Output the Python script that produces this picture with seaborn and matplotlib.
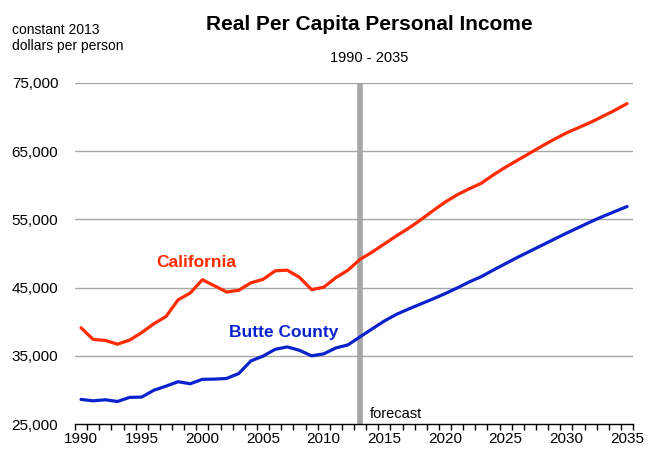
import pandas as pd
import matplotlib.pyplot as plt
import seaborn as sns
import numpy as np
from matplotlib.ticker import FuncFormatter, FixedLocator

# DATA
years = list(range(1990, 2036))
california = [39100, 37400, 37250, 36700, 37300, 38400, 39700, 40750, 43200, 44200,
              46150, 45250, 44350, 44600, 45700, 46200, 47450, 47550, 46500, 44700,
              45050, 46450, 47550, 49150, 50200, 51400, 52580, 53700, 54930, 56250,
              57520, 58600, 59480, 60300, 61540, 62660, 63690, 64720, 65750, 66730,
              67660, 68440, 69220, 70100, 70990, 71970]
butte = [28600, 28400, 28550, 28300, 28900, 28950, 29950, 30550, 31200, 30900,
         31550, 31580, 31680, 32400, 34250, 34950, 35950, 36300, 35800, 35000,
         35280, 36150, 36600, 37780, 38950, 40100, 41080, 41860, 42600, 43330,
         44110, 44940, 45830, 46610, 47590, 48520, 49450, 50330, 51210, 52090,
         52970, 53800, 54640, 55420, 56150, 56880]
y_ticks = [25000, 35000, 45000, 55000, 65000, 75000]
x_labels = [1990, 1995, 2000, 2005, 2010, 2015, 2020, 2025, 2030, 2035]
forecast_start = 2013

df = pd.DataFrame({
    "year": years * 2,
    "income": california + butte,
    "region": ["California"] * len(years) + ["Butte County"] * len(years),
})

# CONFIG
sns.set_style("white")
plt.rcParams["font.family"] = ["Liberation Sans", "DejaVu Sans"]
plt.rcParams["text.color"] = "black"
plt.rcParams["xtick.color"] = "black"
plt.rcParams["ytick.color"] = "black"

fig = plt.figure(figsize=(6.52, 4.53), dpi=100)
ax = fig.add_axes([0.115, 0.064, 0.856, 0.753])

# gridlines + forecast bar behind lines
for v in y_ticks[1:]:
    ax.axhline(v, color="#a6a6a6", lw=1, zorder=0)
ax.axvline(forecast_start, color="#a6a6a6", lw=4, zorder=1)

sns.lineplot(data=df, x="year", y="income", hue="region",
             palette={"California": "#ff2a00", "Butte County": "#0a22cc"},
             linewidth=2.3, legend=False, ax=ax, zorder=3)

ax.set_xlim(1989.5, 2035.5)
ax.set_ylim(25000, 75000)
ax.set_yticks(y_ticks)
ax.yaxis.set_major_formatter(FuncFormatter(lambda v, p: f"{int(v):,}"))
ax.set_xticks(x_labels)
ax.xaxis.set_minor_locator(FixedLocator(np.arange(1989.5, 2036, 1)))
ax.tick_params(axis="x", which="major", bottom=True, length=0, pad=6, labelsize=11)
ax.tick_params(axis="x", which="minor", bottom=True, length=4, width=1,
               direction="out", color="black")
ax.tick_params(axis="y", length=0, pad=12, labelsize=11)
ax.set_xlabel("")
ax.set_ylabel("")
for s in ["left", "right", "top"]:
    ax.spines[s].set_visible(False)
ax.spines["bottom"].set_color("black")
ax.spines["bottom"].set_linewidth(1)

# texts
fig.text(0.566, 0.947, "Real Per Capita Personal Income", ha="center", va="center",
         fontsize=15, fontweight="bold")
fig.text(0.566, 0.872, "1990 - 2035", ha="center", va="center", fontsize=10.5)
fig.text(0.019, 0.916, "constant 2013\ndollars per person", ha="left", va="center",
         fontsize=10, linespacing=1.2)
ax.text(2013.8, 26500, "forecast", ha="left", va="center", fontsize=10.5)
ax.text(1996.2, 48650, "California", color="#ff2a00", ha="left", va="center",
        fontsize=12.5, fontweight="bold")
ax.text(2002.2, 38350, "Butte County", color="#0a22cc", ha="left", va="center",
        fontsize=12.5, fontweight="bold")

plt.savefig("out.png", dpi=100)
